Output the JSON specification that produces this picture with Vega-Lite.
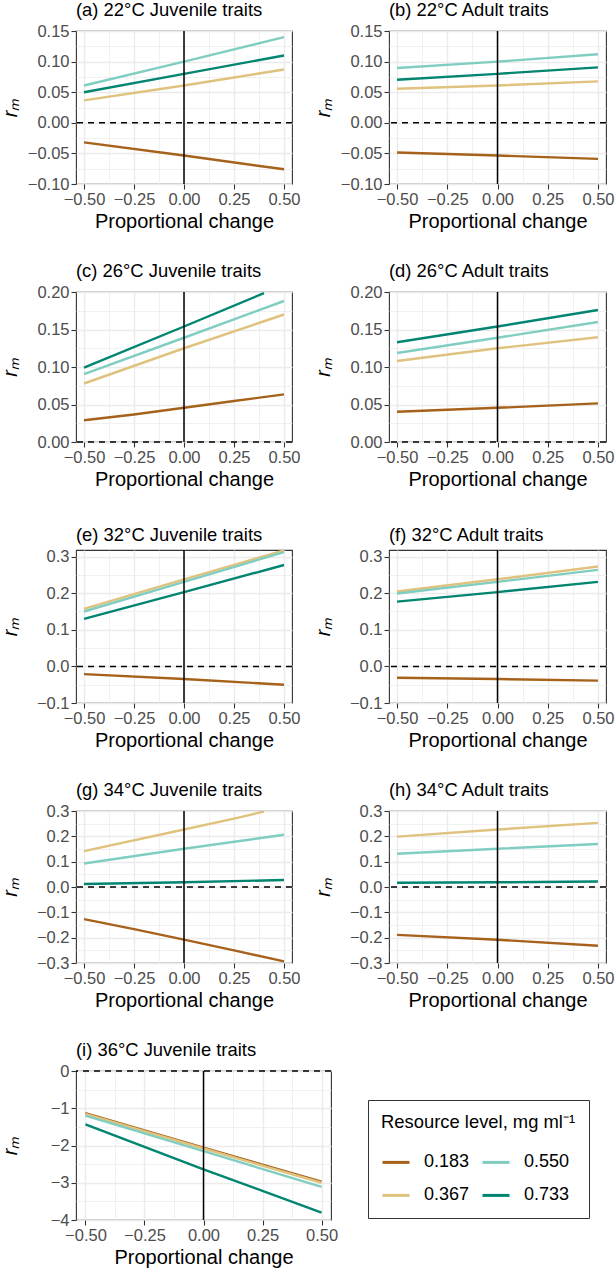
{
"$schema": "https://vega.github.io/schema/vega-lite/v6.json",
"background": "white",
"padding": {"left": -1, "top": 0, "right": 0, "bottom": 0},
"bounds": "flush",
"align": "each",
"columns": 2,
"spacing": {"row": 108, "column": 58},
"data": {"values": [
{"p":"a","lev":"0.183","x":-0.5,"r":-0.032},{"p":"a","lev":"0.183","x":0,"r":-0.0535},{"p":"a","lev":"0.183","x":0.5,"r":-0.076},
{"p":"a","lev":"0.367","x":-0.5,"r":0.0366},{"p":"a","lev":"0.367","x":0,"r":0.061},{"p":"a","lev":"0.367","x":0.5,"r":0.087},
{"p":"a","lev":"0.550","x":-0.5,"r":0.061},{"p":"a","lev":"0.550","x":0,"r":0.100},{"p":"a","lev":"0.550","x":0.5,"r":0.140},
{"p":"a","lev":"0.733","x":-0.5,"r":0.050},{"p":"a","lev":"0.733","x":0,"r":0.080},{"p":"a","lev":"0.733","x":0.5,"r":0.110},
{"p":"b","lev":"0.183","x":-0.5,"r":-0.0486},{"p":"b","lev":"0.183","x":0,"r":-0.0535},{"p":"b","lev":"0.183","x":0.5,"r":-0.059},
{"p":"b","lev":"0.367","x":-0.5,"r":0.0557},{"p":"b","lev":"0.367","x":0,"r":0.061},{"p":"b","lev":"0.367","x":0.5,"r":0.0677},
{"p":"b","lev":"0.550","x":-0.5,"r":0.0895},{"p":"b","lev":"0.550","x":0,"r":0.100},{"p":"b","lev":"0.550","x":0.5,"r":0.112},
{"p":"b","lev":"0.733","x":-0.5,"r":0.0704},{"p":"b","lev":"0.733","x":0,"r":0.080},{"p":"b","lev":"0.733","x":0.5,"r":0.0906},
{"p":"c","lev":"0.183","x":-0.5,"r":0.029},{"p":"c","lev":"0.183","x":-0.25,"r":0.0367},{"p":"c","lev":"0.183","x":0,"r":0.0456},{"p":"c","lev":"0.183","x":0.25,"r":0.0546},{"p":"c","lev":"0.183","x":0.5,"r":0.0635},
{"p":"c","lev":"0.367","x":-0.5,"r":0.078},{"p":"c","lev":"0.367","x":0,"r":0.125},{"p":"c","lev":"0.367","x":0.5,"r":0.170},
{"p":"c","lev":"0.550","x":-0.5,"r":0.0904},{"p":"c","lev":"0.550","x":0,"r":0.139},{"p":"c","lev":"0.550","x":0.5,"r":0.188},
{"p":"c","lev":"0.733","x":-0.5,"r":0.0993},{"p":"c","lev":"0.733","x":0,"r":0.154},{"p":"c","lev":"0.733","x":0.4,"r":0.1985},
{"p":"d","lev":"0.183","x":-0.5,"r":0.0403},{"p":"d","lev":"0.183","x":0,"r":0.0456},{"p":"d","lev":"0.183","x":0.5,"r":0.0515},
{"p":"d","lev":"0.367","x":-0.5,"r":0.108},{"p":"d","lev":"0.367","x":0,"r":0.125},{"p":"d","lev":"0.367","x":0.5,"r":0.1396},
{"p":"d","lev":"0.550","x":-0.5,"r":0.1186},{"p":"d","lev":"0.550","x":0,"r":0.139},{"p":"d","lev":"0.550","x":0.5,"r":0.160},
{"p":"d","lev":"0.733","x":-0.5,"r":0.133},{"p":"d","lev":"0.733","x":0,"r":0.154},{"p":"d","lev":"0.733","x":0.5,"r":0.176},
{"p":"e","lev":"0.183","x":-0.5,"r":-0.021},{"p":"e","lev":"0.183","x":0,"r":-0.0345},{"p":"e","lev":"0.183","x":0.5,"r":-0.050},
{"p":"e","lev":"0.367","x":-0.5,"r":0.157},{"p":"e","lev":"0.367","x":0,"r":0.238},{"p":"e","lev":"0.367","x":0.5,"r":0.317},
{"p":"e","lev":"0.550","x":-0.5,"r":0.150},{"p":"e","lev":"0.550","x":0,"r":0.231},{"p":"e","lev":"0.550","x":0.5,"r":0.312},
{"p":"e","lev":"0.733","x":-0.5,"r":0.130},{"p":"e","lev":"0.733","x":0,"r":0.203},{"p":"e","lev":"0.733","x":0.5,"r":0.277},
{"p":"f","lev":"0.183","x":-0.5,"r":-0.031},{"p":"f","lev":"0.183","x":0,"r":-0.0345},{"p":"f","lev":"0.183","x":0.5,"r":-0.039},
{"p":"f","lev":"0.367","x":-0.5,"r":0.2045},{"p":"f","lev":"0.367","x":0,"r":0.238},{"p":"f","lev":"0.367","x":0.5,"r":0.273},
{"p":"f","lev":"0.550","x":-0.5,"r":0.199},{"p":"f","lev":"0.550","x":0,"r":0.231},{"p":"f","lev":"0.550","x":0.5,"r":0.2636},
{"p":"f","lev":"0.733","x":-0.5,"r":0.177},{"p":"f","lev":"0.733","x":0,"r":0.203},{"p":"f","lev":"0.733","x":0.5,"r":0.231},
{"p":"g","lev":"0.183","x":-0.5,"r":-0.127},{"p":"g","lev":"0.183","x":-0.25,"r":-0.166},{"p":"g","lev":"0.183","x":0,"r":-0.208},{"p":"g","lev":"0.183","x":0.25,"r":-0.25},{"p":"g","lev":"0.183","x":0.5,"r":-0.2936},
{"p":"g","lev":"0.367","x":-0.5,"r":0.1415},{"p":"g","lev":"0.367","x":0,"r":0.227},{"p":"g","lev":"0.367","x":0.25,"r":0.270},{"p":"g","lev":"0.367","x":0.4,"r":0.298},
{"p":"g","lev":"0.550","x":-0.5,"r":0.093},{"p":"g","lev":"0.550","x":0,"r":0.151},{"p":"g","lev":"0.550","x":0.5,"r":0.206},
{"p":"g","lev":"0.733","x":-0.5,"r":0.012},{"p":"g","lev":"0.733","x":0,"r":0.0185},{"p":"g","lev":"0.733","x":0.5,"r":0.0275},
{"p":"h","lev":"0.183","x":-0.5,"r":-0.189},{"p":"h","lev":"0.183","x":0,"r":-0.208},{"p":"h","lev":"0.183","x":0.5,"r":-0.232},
{"p":"h","lev":"0.367","x":-0.5,"r":0.199},{"p":"h","lev":"0.367","x":0,"r":0.227},{"p":"h","lev":"0.367","x":0.5,"r":0.253},
{"p":"h","lev":"0.550","x":-0.5,"r":0.131},{"p":"h","lev":"0.550","x":0,"r":0.151},{"p":"h","lev":"0.550","x":0.5,"r":0.170},
{"p":"h","lev":"0.733","x":-0.5,"r":0.017},{"p":"h","lev":"0.733","x":0,"r":0.0185},{"p":"h","lev":"0.733","x":0.5,"r":0.022},
{"p":"i","lev":"0.183","x":-0.5,"r":-1.13},{"p":"i","lev":"0.183","x":0,"r":-2.06},{"p":"i","lev":"0.183","x":0.5,"r":-2.97},
{"p":"i","lev":"0.367","x":-0.5,"r":-1.15},{"p":"i","lev":"0.367","x":0,"r":-2.08},{"p":"i","lev":"0.367","x":0.5,"r":-3.0},
{"p":"i","lev":"0.550","x":-0.5,"r":-1.2},{"p":"i","lev":"0.550","x":0,"r":-2.15},{"p":"i","lev":"0.550","x":0.5,"r":-3.11},
{"p":"i","lev":"0.733","x":-0.5,"r":-1.43},{"p":"i","lev":"0.733","x":0,"r":-2.64},{"p":"i","lev":"0.733","x":0.5,"r":-3.80}
]},
"concat": [
{"title": "(a) 22°C Juvenile traits", "width": 216, "height": 153,
 "resolve": {"axis": {"x": "independent", "y": "independent"}},
 "layer": [
  {"transform": [{"filter": "datum.p == 'a'"}], "mark": {"type": "line", "strokeWidth": 2.4, "clip": true},
   "encoding": {
    "x": {"field": "x", "type": "quantitative", "scale": {"domain": [-0.54, 0.54], "nice": false, "zero": false}, "axis": {"title": "Proportional change", "values": [-0.5,-0.25,0,0.25,0.5], "format": ".2f"}},
    "y": {"field": "r", "type": "quantitative", "scale": {"domain": [-0.1, 0.15], "nice": false, "zero": false}, "axis": {"title": "rₘ", "values": [-0.1,-0.05,0,0.05,0.1,0.15], "format": ".2f"}},
    "color": {"field": "lev", "type": "nominal", "title": "Resource level, mg ml⁻¹", "scale": {"domain": ["0.183","0.367","0.550","0.733"], "range": ["#A6611A","#DFC27D","#80CDC1","#018571"]}}
   }},
  {"data": {"values": [{}]}, "mark": {"type": "rule", "color": "black", "strokeWidth": 1.5, "strokeDash": [6,5]},
   "encoding": {"y": {"datum": 0, "type": "quantitative", "axis": {"orient": "left", "title": null, "values": [-0.075,-0.025,0.025,0.075,0.125], "labels": false, "ticks": false, "domain": false, "grid": true, "gridWidth": 0.7}}}},
  {"data": {"values": [{}]}, "mark": {"type": "rule", "color": "black", "strokeWidth": 1.5},
   "encoding": {"x": {"datum": 0, "type": "quantitative", "axis": {"orient": "bottom", "title": null, "values": [-0.375,-0.125,0.125,0.375], "labels": false, "ticks": false, "domain": false, "grid": true, "gridWidth": 0.7}}}}
 ]},
{"title": "(b) 22°C Adult traits", "width": 217, "height": 153,
 "resolve": {"axis": {"x": "independent", "y": "independent"}},
 "layer": [
  {"transform": [{"filter": "datum.p == 'b'"}], "mark": {"type": "line", "strokeWidth": 2.4, "clip": true},
   "encoding": {
    "x": {"field": "x", "type": "quantitative", "scale": {"domain": [-0.54, 0.54], "nice": false, "zero": false}, "axis": {"title": "Proportional change", "values": [-0.5,-0.25,0,0.25,0.5], "format": ".2f"}},
    "y": {"field": "r", "type": "quantitative", "scale": {"domain": [-0.1, 0.15], "nice": false, "zero": false}, "axis": {"title": "rₘ", "values": [-0.1,-0.05,0,0.05,0.1,0.15], "format": ".2f"}},
    "color": {"field": "lev", "type": "nominal", "title": "Resource level, mg ml⁻¹", "scale": {"domain": ["0.183","0.367","0.550","0.733"], "range": ["#A6611A","#DFC27D","#80CDC1","#018571"]}}
   }},
  {"data": {"values": [{}]}, "mark": {"type": "rule", "color": "black", "strokeWidth": 1.5, "strokeDash": [6,5]},
   "encoding": {"y": {"datum": 0, "type": "quantitative", "axis": {"orient": "left", "title": null, "values": [-0.075,-0.025,0.025,0.075,0.125], "labels": false, "ticks": false, "domain": false, "grid": true, "gridWidth": 0.7}}}},
  {"data": {"values": [{}]}, "mark": {"type": "rule", "color": "black", "strokeWidth": 1.5},
   "encoding": {"x": {"datum": 0, "type": "quantitative", "axis": {"orient": "bottom", "title": null, "values": [-0.375,-0.125,0.125,0.375], "labels": false, "ticks": false, "domain": false, "grid": true, "gridWidth": 0.7}}}}
 ]},
{"title": "(c) 26°C Juvenile traits", "width": 216, "height": 150,
 "resolve": {"axis": {"x": "independent", "y": "independent"}},
 "layer": [
  {"transform": [{"filter": "datum.p == 'c'"}], "mark": {"type": "line", "strokeWidth": 2.4, "clip": true},
   "encoding": {
    "x": {"field": "x", "type": "quantitative", "scale": {"domain": [-0.54, 0.54], "nice": false, "zero": false}, "axis": {"title": "Proportional change", "values": [-0.5,-0.25,0,0.25,0.5], "format": ".2f"}},
    "y": {"field": "r", "type": "quantitative", "scale": {"domain": [0, 0.2], "nice": false, "zero": false}, "axis": {"title": "rₘ", "values": [0,0.05,0.1,0.15,0.2], "format": ".2f"}},
    "color": {"field": "lev", "type": "nominal", "title": "Resource level, mg ml⁻¹", "scale": {"domain": ["0.183","0.367","0.550","0.733"], "range": ["#A6611A","#DFC27D","#80CDC1","#018571"]}}
   }},
  {"data": {"values": [{}]}, "mark": {"type": "rule", "color": "black", "strokeWidth": 1.5, "strokeDash": [6,5]},
   "encoding": {"y": {"datum": 0, "type": "quantitative", "axis": {"orient": "left", "title": null, "values": [0.025,0.075,0.125,0.175], "labels": false, "ticks": false, "domain": false, "grid": true, "gridWidth": 0.7}}}},
  {"data": {"values": [{}]}, "mark": {"type": "rule", "color": "black", "strokeWidth": 1.5},
   "encoding": {"x": {"datum": 0, "type": "quantitative", "axis": {"orient": "bottom", "title": null, "values": [-0.375,-0.125,0.125,0.375], "labels": false, "ticks": false, "domain": false, "grid": true, "gridWidth": 0.7}}}}
 ]},
{"title": "(d) 26°C Adult traits", "width": 217, "height": 150,
 "resolve": {"axis": {"x": "independent", "y": "independent"}},
 "layer": [
  {"transform": [{"filter": "datum.p == 'd'"}], "mark": {"type": "line", "strokeWidth": 2.4, "clip": true},
   "encoding": {
    "x": {"field": "x", "type": "quantitative", "scale": {"domain": [-0.54, 0.54], "nice": false, "zero": false}, "axis": {"title": "Proportional change", "values": [-0.5,-0.25,0,0.25,0.5], "format": ".2f"}},
    "y": {"field": "r", "type": "quantitative", "scale": {"domain": [0, 0.2], "nice": false, "zero": false}, "axis": {"title": "rₘ", "values": [0,0.05,0.1,0.15,0.2], "format": ".2f"}},
    "color": {"field": "lev", "type": "nominal", "title": "Resource level, mg ml⁻¹", "scale": {"domain": ["0.183","0.367","0.550","0.733"], "range": ["#A6611A","#DFC27D","#80CDC1","#018571"]}}
   }},
  {"data": {"values": [{}]}, "mark": {"type": "rule", "color": "black", "strokeWidth": 1.5, "strokeDash": [6,5]},
   "encoding": {"y": {"datum": 0, "type": "quantitative", "axis": {"orient": "left", "title": null, "values": [0.025,0.075,0.125,0.175], "labels": false, "ticks": false, "domain": false, "grid": true, "gridWidth": 0.7}}}},
  {"data": {"values": [{}]}, "mark": {"type": "rule", "color": "black", "strokeWidth": 1.5},
   "encoding": {"x": {"datum": 0, "type": "quantitative", "axis": {"orient": "bottom", "title": null, "values": [-0.375,-0.125,0.125,0.375], "labels": false, "ticks": false, "domain": false, "grid": true, "gridWidth": 0.7}}}}
 ]},
{"title": "(e) 32°C Juvenile traits", "width": 216, "height": 153,
 "resolve": {"axis": {"x": "independent", "y": "independent"}},
 "layer": [
  {"transform": [{"filter": "datum.p == 'e'"}], "mark": {"type": "line", "strokeWidth": 2.4, "clip": true},
   "encoding": {
    "x": {"field": "x", "type": "quantitative", "scale": {"domain": [-0.54, 0.54], "nice": false, "zero": false}, "axis": {"title": "Proportional change", "values": [-0.5,-0.25,0,0.25,0.5], "format": ".2f"}},
    "y": {"field": "r", "type": "quantitative", "scale": {"domain": [-0.1, 0.318], "nice": false, "zero": false}, "axis": {"title": "rₘ", "values": [-0.1,0,0.1,0.2,0.3], "format": ".1f"}},
    "color": {"field": "lev", "type": "nominal", "title": "Resource level, mg ml⁻¹", "scale": {"domain": ["0.183","0.367","0.550","0.733"], "range": ["#A6611A","#DFC27D","#80CDC1","#018571"]}}
   }},
  {"data": {"values": [{}]}, "mark": {"type": "rule", "color": "black", "strokeWidth": 1.5, "strokeDash": [6,5]},
   "encoding": {"y": {"datum": 0, "type": "quantitative", "axis": {"orient": "left", "title": null, "values": [-0.05,0.05,0.15,0.25], "labels": false, "ticks": false, "domain": false, "grid": true, "gridWidth": 0.7}}}},
  {"data": {"values": [{}]}, "mark": {"type": "rule", "color": "black", "strokeWidth": 1.5},
   "encoding": {"x": {"datum": 0, "type": "quantitative", "axis": {"orient": "bottom", "title": null, "values": [-0.375,-0.125,0.125,0.375], "labels": false, "ticks": false, "domain": false, "grid": true, "gridWidth": 0.7}}}}
 ]},
{"title": "(f) 32°C Adult traits", "width": 217, "height": 153,
 "resolve": {"axis": {"x": "independent", "y": "independent"}},
 "layer": [
  {"transform": [{"filter": "datum.p == 'f'"}], "mark": {"type": "line", "strokeWidth": 2.4, "clip": true},
   "encoding": {
    "x": {"field": "x", "type": "quantitative", "scale": {"domain": [-0.54, 0.54], "nice": false, "zero": false}, "axis": {"title": "Proportional change", "values": [-0.5,-0.25,0,0.25,0.5], "format": ".2f"}},
    "y": {"field": "r", "type": "quantitative", "scale": {"domain": [-0.1, 0.318], "nice": false, "zero": false}, "axis": {"title": "rₘ", "values": [-0.1,0,0.1,0.2,0.3], "format": ".1f"}},
    "color": {"field": "lev", "type": "nominal", "title": "Resource level, mg ml⁻¹", "scale": {"domain": ["0.183","0.367","0.550","0.733"], "range": ["#A6611A","#DFC27D","#80CDC1","#018571"]}}
   }},
  {"data": {"values": [{}]}, "mark": {"type": "rule", "color": "black", "strokeWidth": 1.5, "strokeDash": [6,5]},
   "encoding": {"y": {"datum": 0, "type": "quantitative", "axis": {"orient": "left", "title": null, "values": [-0.05,0.05,0.15,0.25], "labels": false, "ticks": false, "domain": false, "grid": true, "gridWidth": 0.7}}}},
  {"data": {"values": [{}]}, "mark": {"type": "rule", "color": "black", "strokeWidth": 1.5},
   "encoding": {"x": {"datum": 0, "type": "quantitative", "axis": {"orient": "bottom", "title": null, "values": [-0.375,-0.125,0.125,0.375], "labels": false, "ticks": false, "domain": false, "grid": true, "gridWidth": 0.7}}}}
 ]},
{"title": "(g) 34°C Juvenile traits", "width": 216, "height": 152,
 "resolve": {"axis": {"x": "independent", "y": "independent"}},
 "layer": [
  {"transform": [{"filter": "datum.p == 'g'"}], "mark": {"type": "line", "strokeWidth": 2.4, "clip": true},
   "encoding": {
    "x": {"field": "x", "type": "quantitative", "scale": {"domain": [-0.54, 0.54], "nice": false, "zero": false}, "axis": {"title": "Proportional change", "values": [-0.5,-0.25,0,0.25,0.5], "format": ".2f"}},
    "y": {"field": "r", "type": "quantitative", "scale": {"domain": [-0.3, 0.3], "nice": false, "zero": false}, "axis": {"title": "rₘ", "values": [-0.3,-0.2,-0.1,0,0.1,0.2,0.3], "format": ".1f"}},
    "color": {"field": "lev", "type": "nominal", "title": "Resource level, mg ml⁻¹", "scale": {"domain": ["0.183","0.367","0.550","0.733"], "range": ["#A6611A","#DFC27D","#80CDC1","#018571"]}}
   }},
  {"data": {"values": [{}]}, "mark": {"type": "rule", "color": "black", "strokeWidth": 1.5, "strokeDash": [6,5]},
   "encoding": {"y": {"datum": 0, "type": "quantitative", "axis": {"orient": "left", "title": null, "values": [-0.25,-0.15,-0.05,0.05,0.15,0.25], "labels": false, "ticks": false, "domain": false, "grid": true, "gridWidth": 0.7}}}},
  {"data": {"values": [{}]}, "mark": {"type": "rule", "color": "black", "strokeWidth": 1.5},
   "encoding": {"x": {"datum": 0, "type": "quantitative", "axis": {"orient": "bottom", "title": null, "values": [-0.375,-0.125,0.125,0.375], "labels": false, "ticks": false, "domain": false, "grid": true, "gridWidth": 0.7}}}}
 ]},
{"title": "(h) 34°C Adult traits", "width": 217, "height": 152,
 "resolve": {"axis": {"x": "independent", "y": "independent"}},
 "layer": [
  {"transform": [{"filter": "datum.p == 'h'"}], "mark": {"type": "line", "strokeWidth": 2.4, "clip": true},
   "encoding": {
    "x": {"field": "x", "type": "quantitative", "scale": {"domain": [-0.54, 0.54], "nice": false, "zero": false}, "axis": {"title": "Proportional change", "values": [-0.5,-0.25,0,0.25,0.5], "format": ".2f"}},
    "y": {"field": "r", "type": "quantitative", "scale": {"domain": [-0.3, 0.3], "nice": false, "zero": false}, "axis": {"title": "rₘ", "values": [-0.3,-0.2,-0.1,0,0.1,0.2,0.3], "format": ".1f"}},
    "color": {"field": "lev", "type": "nominal", "title": "Resource level, mg ml⁻¹", "scale": {"domain": ["0.183","0.367","0.550","0.733"], "range": ["#A6611A","#DFC27D","#80CDC1","#018571"]}}
   }},
  {"data": {"values": [{}]}, "mark": {"type": "rule", "color": "black", "strokeWidth": 1.5, "strokeDash": [6,5]},
   "encoding": {"y": {"datum": 0, "type": "quantitative", "axis": {"orient": "left", "title": null, "values": [-0.25,-0.15,-0.05,0.05,0.15,0.25], "labels": false, "ticks": false, "domain": false, "grid": true, "gridWidth": 0.7}}}},
  {"data": {"values": [{}]}, "mark": {"type": "rule", "color": "black", "strokeWidth": 1.5},
   "encoding": {"x": {"datum": 0, "type": "quantitative", "axis": {"orient": "bottom", "title": null, "values": [-0.375,-0.125,0.125,0.375], "labels": false, "ticks": false, "domain": false, "grid": true, "gridWidth": 0.7}}}}
 ]},
{"title": "(i) 36°C Juvenile traits", "width": 255, "height": 149,
 "resolve": {"axis": {"x": "independent", "y": "independent"}},
 "layer": [
  {"transform": [{"filter": "datum.p == 'i'"}], "mark": {"type": "line", "strokeWidth": 2.4, "clip": true},
   "encoding": {
    "x": {"field": "x", "type": "quantitative", "scale": {"domain": [-0.54, 0.54], "nice": false, "zero": false}, "axis": {"title": "Proportional change", "values": [-0.5,-0.25,0,0.25,0.5], "format": ".2f"}},
    "y": {"field": "r", "type": "quantitative", "scale": {"domain": [-4, 0], "nice": false, "zero": false}, "axis": {"title": "rₘ", "values": [-4,-3,-2,-1,0], "format": "d"}},
    "color": {"field": "lev", "type": "nominal", "title": "Resource level, mg ml⁻¹", "scale": {"domain": ["0.183","0.367","0.550","0.733"], "range": ["#A6611A","#DFC27D","#80CDC1","#018571"]}}
   }},
  {"data": {"values": [{}]}, "mark": {"type": "rule", "color": "black", "strokeWidth": 1.5, "strokeDash": [6,5]},
   "encoding": {"y": {"datum": 0, "type": "quantitative", "axis": {"orient": "left", "title": null, "values": [-3.5,-2.5,-1.5,-0.5], "labels": false, "ticks": false, "domain": false, "grid": true, "gridWidth": 0.7}}}},
  {"data": {"values": [{}]}, "mark": {"type": "rule", "color": "black", "strokeWidth": 1.5},
   "encoding": {"x": {"datum": 0, "type": "quantitative", "axis": {"orient": "bottom", "title": null, "values": [-0.375,-0.125,0.125,0.375], "labels": false, "ticks": false, "domain": false, "grid": true, "gridWidth": 0.7}}}}
 ]}
],
"config": {
 "font": "Liberation Sans",
 "view": {"stroke": "#333333", "strokeWidth": 1.1},
 "title": {"anchor": "start", "frame": "group", "font": "Liberation Sans", "fontSize": 18.4, "fontWeight": "normal", "color": "#000000", "baseline": "alphabetic", "offset": 4},
 "axis": {"labelFont": "Liberation Sans", "labelFontSize": 16.5, "labelColor": "#4D4D4D", "titleFont": "Liberation Sans", "titleFontSize": 20, "titleColor": "#000000", "titleFontWeight": "normal", "domain": false, "tickColor": "#333333", "tickSize": 5, "tickWidth": 1.1, "grid": true, "gridColor": "#EBEBEB", "gridWidth": 1.4, "labelPadding": 2, "labelOverlap": false, "labelFlush": false},
 "axisX": {"titlePadding": 4},
 "axisY": {"titleX": -60, "titleFontStyle": "italic", "titleBaseline": "alphabetic"},
 "legend": {"orient": "none", "legendX": 292, "legendY": 1069, "columns": 2, "strokeColor": "#333333", "padding": 13,
   "titleFont": "Liberation Sans", "titleFontSize": 18.4, "titleFontWeight": "normal", "titleColor": "#000000", "titlePadding": 16, "titleLimit": 400,
   "labelFont": "Liberation Sans", "labelFontSize": 18, "labelColor": "#000000", "labelOffset": 13,
   "symbolType": "stroke", "symbolSize": 729, "symbolStrokeWidth": 3, "columnPadding": 6, "rowPadding": 9}
}
}
